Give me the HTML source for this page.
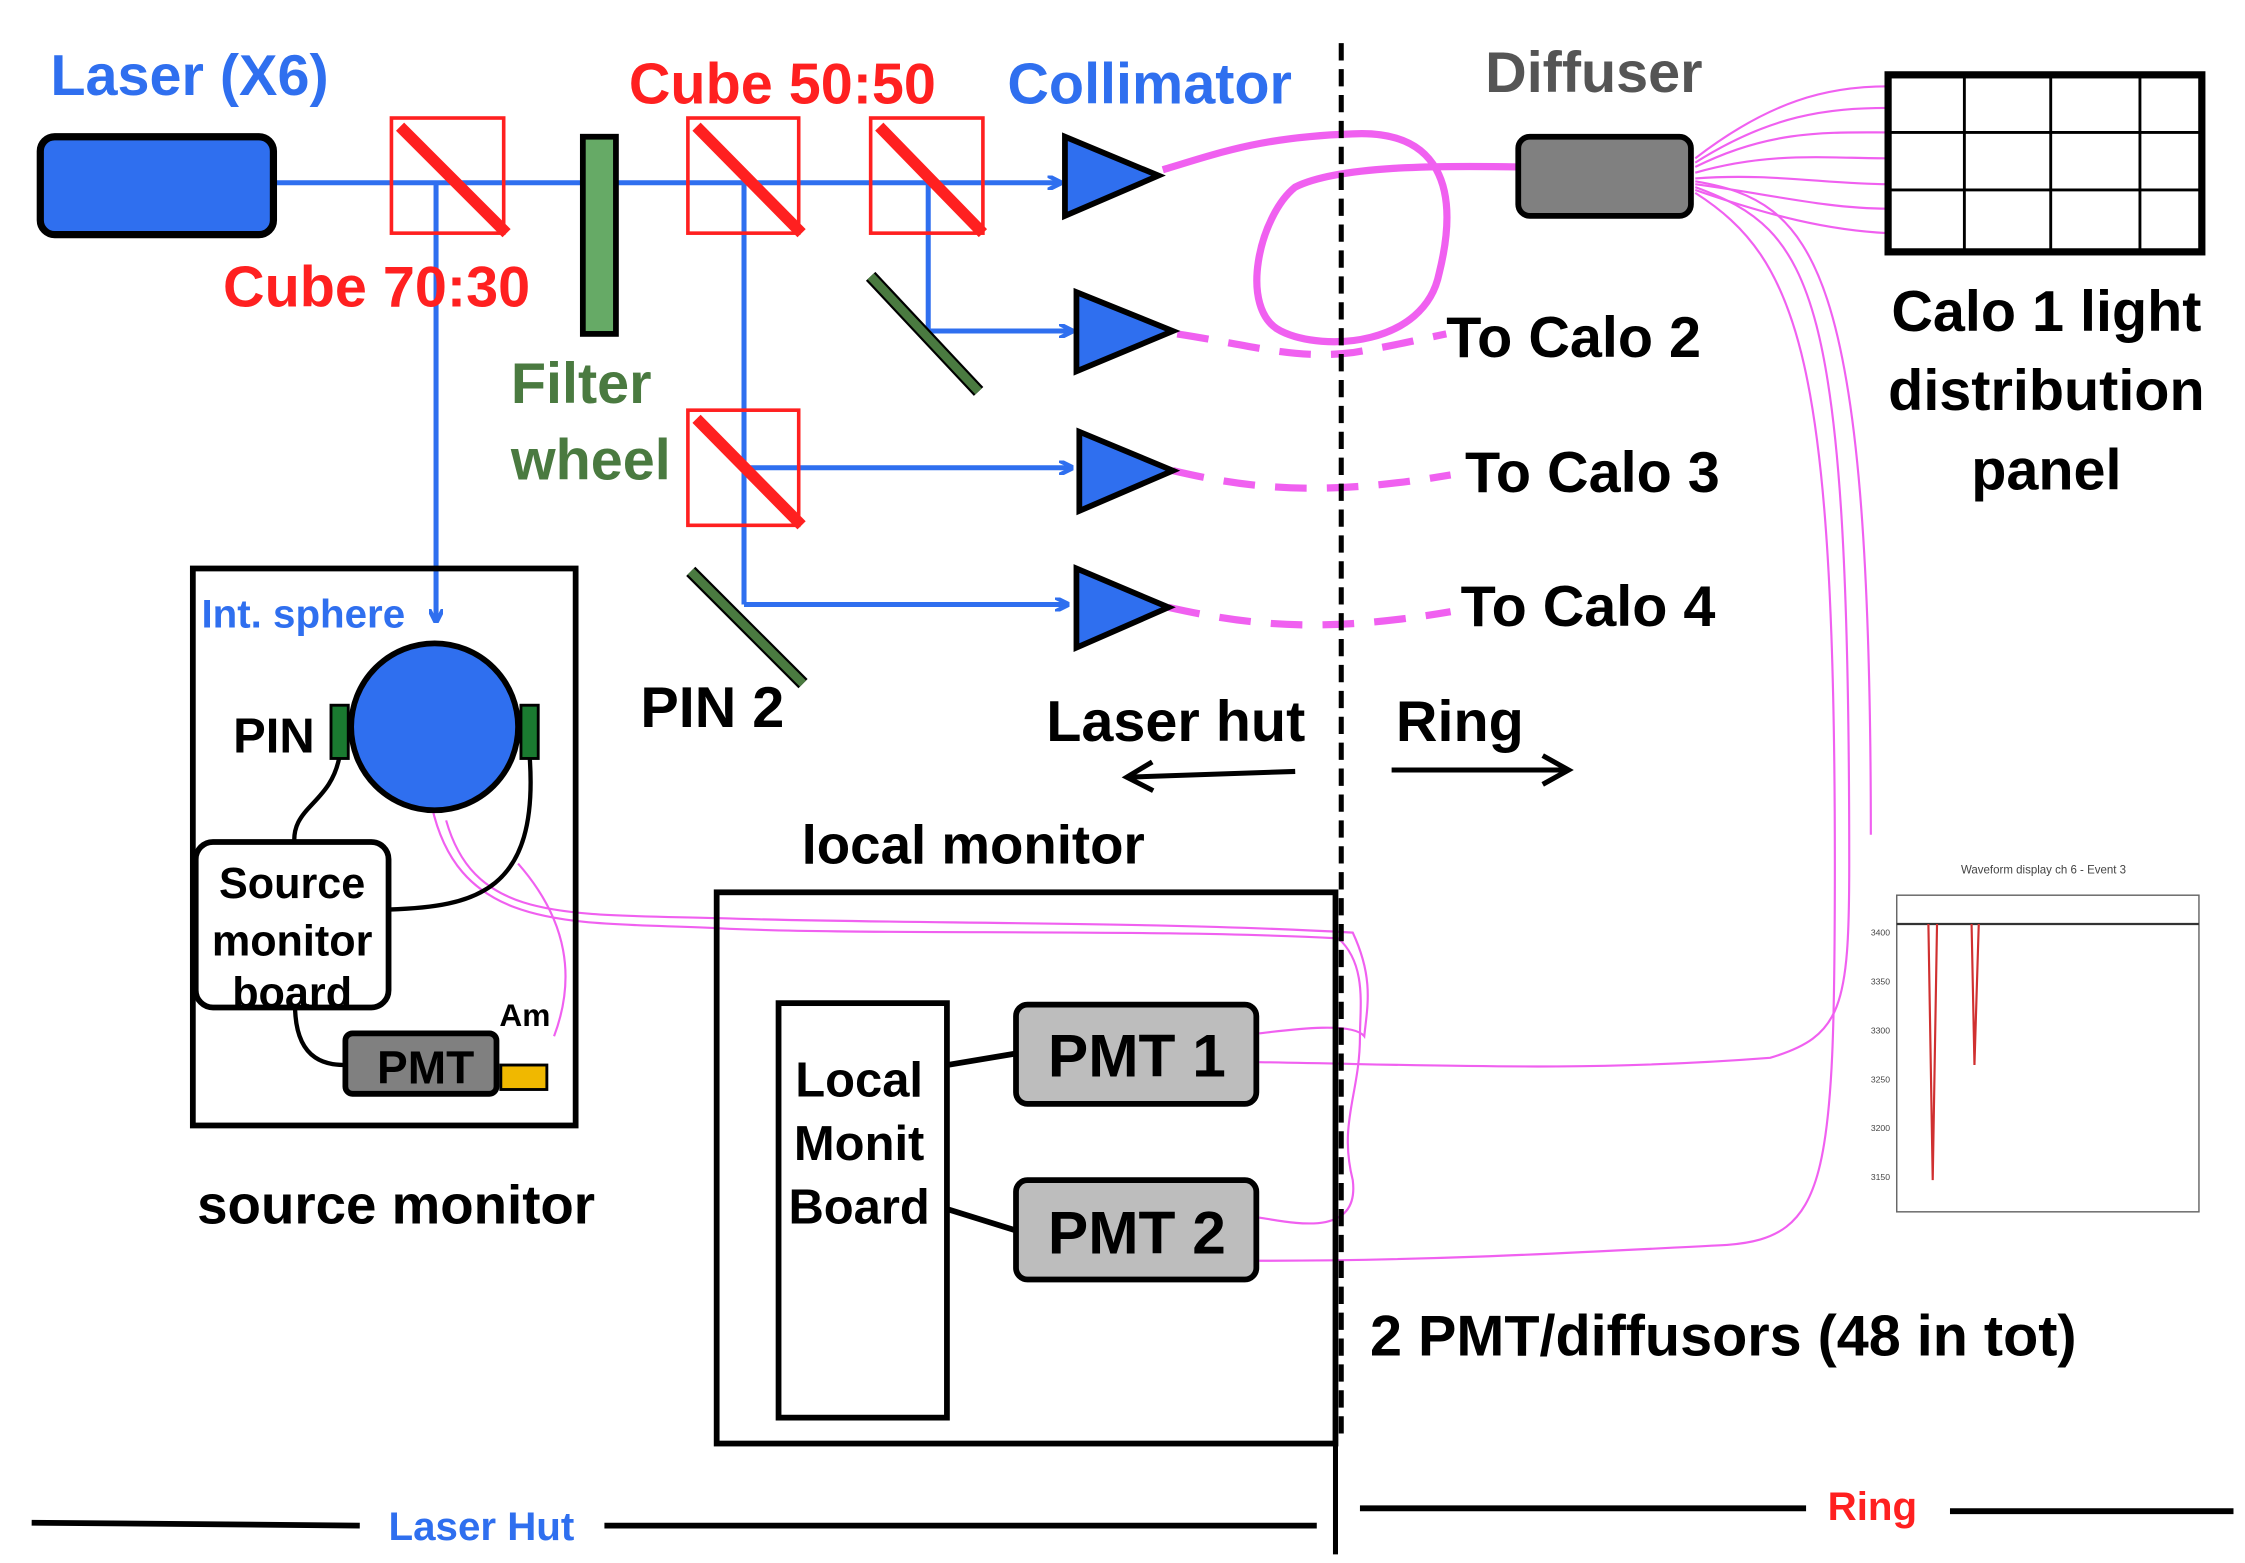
<!DOCTYPE html>
<html><head><meta charset="utf-8"><style>
html,body{margin:0;padding:0;background:#fff;}
svg{display:block;}
text{font-family:"Liberation Sans",sans-serif;}
</style></head><body>
<svg width="2245" height="1563" viewBox="0 0 1560 1086" preserveAspectRatio="none" xmlns="http://www.w3.org/2000/svg">
<defs>
<marker id="ab" markerWidth="10" markerHeight="10" refX="9" refY="5" orient="auto" markerUnits="userSpaceOnUse"><path d="M0,0 L10,5 L0,10" fill="none" stroke="#2f6fef" stroke-width="3"/></marker>
<marker id="ak" markerWidth="24" markerHeight="24" refX="20" refY="12" orient="auto" markerUnits="userSpaceOnUse"><path d="M2,2 L20,12 L2,22" fill="none" stroke="#000" stroke-width="3.5"/></marker>
</defs>
<!-- magenta fibers -->
<g fill="none" stroke="#f060f0" stroke-width="1.5">
<path d="M1178,110 C1230,70 1270,60 1312,60"/>
<path d="M1178,113 C1230,80 1270,75 1312,75"/>
<path d="M1178,116 C1230,90 1270,92 1312,92"/>
<path d="M1178,120 C1230,105 1270,110 1312,110"/>
<path d="M1178,124 C1230,120 1270,128 1312,128"/>
<path d="M1178,128 C1230,135 1270,145 1312,145"/>
<path d="M1178,132 C1230,150 1270,160 1312,162"/>
<path d="M1178,126 C1260,140 1300,180 1300,580"/>
<path d="M1178,130 C1260,160 1285,200 1285,600 C1285,700 1280,720 1230,735 C1100,745 1000,740 875,738"/>
<path d="M1178,134 C1250,180 1275,250 1275,600 C1275,820 1270,860 1200,865 C1100,870 1000,876 875,876"/>
<path d="M300,560 C320,650 400,640 500,645 C600,650 800,645 930,652 C950,670 945,700 945,720 C945,760 930,780 940,820 C945,860 900,850 875,846"/>
<path d="M310,570 C330,640 390,635 500,638 C620,642 800,640 940,648 C955,680 950,700 948,720 C940,710 900,715 875,718"/>
<path d="M360,600 C395,640 400,680 385,720"/>
</g>
<path d="M808,118 C850,105 880,95 940,93 C1000,90 1015,130 1000,190 C990,240 920,245 890,230 C860,215 875,150 900,130 C930,115 1000,115 1055,116" fill="none" stroke="#f060f0" stroke-width="5"/>
<g fill="none" stroke="#f060f0" stroke-width="5" stroke-dasharray="22,14">
<path d="M818,232 C870,240 900,250 940,245 C970,240 990,235 1005,232"/>
<path d="M815,327 C870,340 920,345 1008,330"/>
<path d="M812,422 C870,435 920,440 1008,425"/>
</g>
<!-- blue beams -->
<g stroke="#2f6fef" stroke-width="3.5" fill="none">
<line x1="190" y1="127" x2="737" y2="127" marker-end="url(#ab)"/>
<line x1="303" y1="127" x2="303" y2="432" marker-end="url(#ab)"/>
<line x1="517" y1="127" x2="517" y2="420"/>
<line x1="517" y1="325" x2="745" y2="325" marker-end="url(#ab)"/>
<line x1="517" y1="420" x2="742" y2="420" marker-end="url(#ab)"/>
<line x1="645" y1="127" x2="645" y2="230"/>
<line x1="645" y1="230" x2="745" y2="230" marker-end="url(#ab)"/>
</g>
<!-- laser -->
<rect x="28" y="95" width="162" height="68" rx="10" fill="#2f6fef" stroke="#000" stroke-width="5"/>
<!-- cubes -->
<g fill="none" stroke="#ff2020" stroke-width="2.5">
<rect x="272" y="82" width="78" height="80"/>
<rect x="478" y="82" width="77" height="80"/>
<rect x="605" y="82" width="78" height="80"/>
<rect x="478" y="285" width="77" height="80"/>
</g>
<g stroke="#ff2020" stroke-width="8">
<line x1="278" y1="88" x2="352" y2="162"/>
<line x1="484" y1="88" x2="557" y2="162"/>
<line x1="611" y1="88" x2="683" y2="162"/>
<line x1="484" y1="291" x2="557" y2="365"/>
</g>
<!-- filter wheel & mirrors -->
<rect x="405" y="95" width="23" height="137" fill="#66aa66" stroke="#000" stroke-width="4"/>
<line x1="605" y1="192" x2="680" y2="272" stroke="#000" stroke-width="9"/>
<line x1="605" y1="192" x2="680" y2="272" stroke="#4a7a40" stroke-width="6"/>
<line x1="480" y1="397" x2="558" y2="475" stroke="#000" stroke-width="9"/>
<line x1="480" y1="397" x2="558" y2="475" stroke="#4a7a40" stroke-width="6"/>
<!-- collimators -->
<g fill="#2f6fef" stroke="#000" stroke-width="4">
<polygon points="740,95 740,150 805,122"/>
<polygon points="748,203 748,258 815,230"/>
<polygon points="750,300 750,355 815,327"/>
<polygon points="748,395 748,450 812,422"/>
</g>
<!-- divider -->
<line x1="932" y1="30" x2="932" y2="1000" stroke="#000" stroke-width="3.5" stroke-dasharray="12,6"/>
<line x1="928" y1="985" x2="928" y2="1080" stroke="#000" stroke-width="3.5"/>
<!-- diffuser & panel -->
<rect x="1055" y="95" width="120" height="55" rx="8" fill="#808080" stroke="#000" stroke-width="4"/>
<rect x="1312" y="52" width="218" height="123" fill="#fff" stroke="#000" stroke-width="5"/>
<g stroke="#000" stroke-width="2">
<line x1="1365" y1="52" x2="1365" y2="175"/><line x1="1425" y1="52" x2="1425" y2="175"/><line x1="1487" y1="52" x2="1487" y2="175"/>
<line x1="1312" y1="92" x2="1530" y2="92"/><line x1="1312" y1="132" x2="1530" y2="132"/>
</g>
<!-- source monitor -->
<rect x="134" y="395" width="266" height="387" fill="none" stroke="#000" stroke-width="4"/>
<path d="M236,525 C230,560 200,560 205,590" fill="none" stroke="#000" stroke-width="3"/>
<path d="M368,525 C375,620 330,630 270,632" fill="none" stroke="#000" stroke-width="3"/>
<path d="M205,698 C205,740 230,740 242,740" fill="none" stroke="#000" stroke-width="3"/>
<circle cx="302" cy="505" r="58" fill="#2f6fef" stroke="#000" stroke-width="4"/>
<rect x="230" y="490" width="12" height="37" fill="#1a7a30" stroke="#000" stroke-width="2"/>
<rect x="362" y="490" width="12" height="37" fill="#1a7a30" stroke="#000" stroke-width="2"/>
<rect x="136" y="585" width="134" height="115" rx="12" fill="#fff" stroke="#000" stroke-width="4"/>
<rect x="240" y="718" width="105" height="42" rx="5" fill="#808080" stroke="#000" stroke-width="4"/>
<rect x="348" y="740" width="32" height="17" fill="#f0b800" stroke="#000" stroke-width="2"/>
<!-- local monitor -->
<rect x="498" y="620" width="430" height="383" fill="none" stroke="#000" stroke-width="4"/>
<rect x="541" y="697" width="117" height="288" fill="#fff" stroke="#000" stroke-width="4"/>
<line x1="658" y1="740" x2="706" y2="732" stroke="#000" stroke-width="4"/>
<line x1="658" y1="840" x2="706" y2="855" stroke="#000" stroke-width="4"/>
<rect x="706" y="698" width="167" height="69" rx="8" fill="#bdbdbd" stroke="#000" stroke-width="4"/>
<rect x="706" y="820" width="167" height="69" rx="8" fill="#bdbdbd" stroke="#000" stroke-width="4"/>
<!-- arrows laser hut / ring -->
<line x1="900" y1="536" x2="783" y2="540" stroke="#000" stroke-width="3.5" marker-end="url(#ak)"/>
<line x1="967" y1="535" x2="1090" y2="535" stroke="#000" stroke-width="3.5" marker-end="url(#ak)"/>
<!-- waveform plot -->
<text x="1420" y="607" font-size="8" fill="#444" text-anchor="middle">Waveform display ch 6 - Event 3</text>
<rect x="1318" y="622" width="210" height="220" fill="#fff" stroke="#666" stroke-width="1"/>
<line x1="1318" y1="642" x2="1528" y2="642" stroke="#333" stroke-width="1.5"/>
<path d="M1340,642 L1343,820 L1346,642 M1370,642 L1372,740 L1375,642" fill="none" stroke="#d03030" stroke-width="1.5"/>
<g font-size="6" fill="#444"><text x="1300" y="650">3400</text><text x="1300" y="684">3350</text><text x="1300" y="718">3300</text><text x="1300" y="752">3250</text><text x="1300" y="786">3200</text><text x="1300" y="820">3150</text></g>
<!-- bottom lines -->
<line x1="22" y1="1058" x2="250" y2="1060" stroke="#000" stroke-width="4"/>
<line x1="420" y1="1060" x2="915" y2="1060" stroke="#000" stroke-width="4"/>
<line x1="945" y1="1048" x2="1255" y2="1048" stroke="#000" stroke-width="4"/>
<line x1="1355" y1="1050" x2="1552" y2="1050" stroke="#000" stroke-width="4"/>
<!-- texts -->
<g font-weight="bold">
<text x="35" y="66" font-size="40" fill="#2f6fef">Laser (X6)</text>
<text x="437" y="72" font-size="40" fill="#ff2020">Cube 50:50</text>
<text x="700" y="72" font-size="40" fill="#2f6fef">Collimator</text>
<text x="1032" y="64" font-size="40" fill="#555">Diffuser</text>
<text x="155" y="213" font-size="40" fill="#ff2020">Cube 70:30</text>
<text x="355" y="280" font-size="40" fill="#4a7a40">Filter</text>
<text x="355" y="333" font-size="40" fill="#4a7a40">wheel</text>
<text x="1005" y="248" font-size="40" fill="#000">To Calo 2</text>
<text x="1018" y="342" font-size="40" fill="#000">To Calo 3</text>
<text x="1015" y="435" font-size="40" fill="#000">To Calo 4</text>
<text x="1422" y="230" font-size="40" fill="#000" text-anchor="middle">Calo 1 light</text>
<text x="1422" y="285" font-size="40" fill="#000" text-anchor="middle">distribution</text>
<text x="1422" y="340" font-size="40" fill="#000" text-anchor="middle">panel</text>
<text x="140" y="436" font-size="28" fill="#2f6fef">Int. sphere</text>
<text x="162" y="523" font-size="34" fill="#000">PIN</text>
<text x="445" y="505" font-size="40" fill="#000">PIN 2</text>
<text x="727" y="515" font-size="40" fill="#000">Laser hut</text>
<text x="970" y="515" font-size="40" fill="#000">Ring</text>
<text x="557" y="600" font-size="38" fill="#000">local monitor</text>
<text x="203" y="624" font-size="30" fill="#000" text-anchor="middle">Source</text>
<text x="203" y="664" font-size="30" fill="#000" text-anchor="middle">monitor</text>
<text x="203" y="700" font-size="30" fill="#000" text-anchor="middle">board</text>
<text x="347" y="713" font-size="22" fill="#000">Am</text>
<text x="262" y="753" font-size="32" fill="#000">PMT</text>
<text x="597" y="762" font-size="34" fill="#000" text-anchor="middle">Local</text>
<text x="597" y="806" font-size="34" fill="#000" text-anchor="middle">Monit</text>
<text x="597" y="850" font-size="34" fill="#000" text-anchor="middle">Board</text>
<text x="790" y="748" font-size="42" fill="#000" text-anchor="middle">PMT 1</text>
<text x="790" y="871" font-size="42" fill="#000" text-anchor="middle">PMT 2</text>
<text x="137" y="850" font-size="38" fill="#000">source monitor</text>
<text x="952" y="942" font-size="40" fill="#000">2 PMT/diffusors (48 in tot)</text>
<text x="270" y="1070" font-size="28" fill="#2f6fef">Laser Hut</text>
<text x="1270" y="1056" font-size="28" fill="#ff2020">Ring</text>
</g>
</svg>
</body></html>
